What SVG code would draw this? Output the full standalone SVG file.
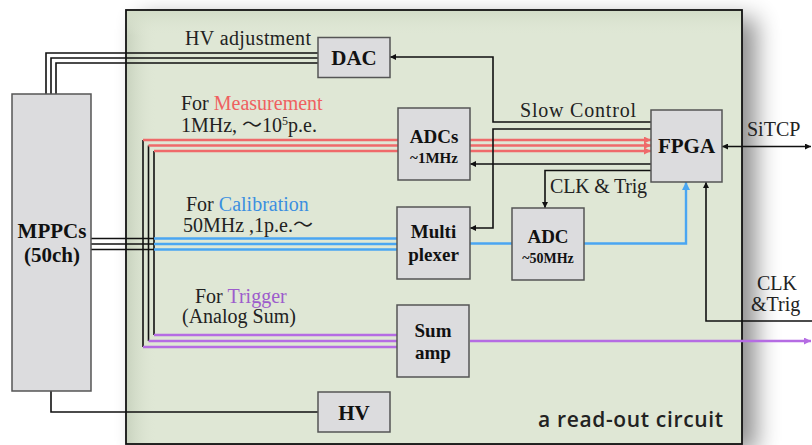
<svg xmlns="http://www.w3.org/2000/svg" width="812" height="445" viewBox="0 0 812 445">
<style>
.box{fill:#dcdcde;stroke:#555;stroke-width:1.5}
.lbl{font-family:"Liberation Serif","Noto Sans CJK JP",serif;font-size:20px;fill:#222}
.bt{font-family:"Liberation Serif",serif;font-weight:bold;fill:#111;text-anchor:middle}
.k{fill:none;stroke:#111;stroke-width:1.6}
.r{fill:none;stroke:#ef6a6a;stroke-width:2.4}
.b{fill:none;stroke:#4aa6f2;stroke-width:2.4}
.p{fill:none;stroke:#b56ce3;stroke-width:2.4}
</style>
<defs>
<marker id="ak" viewBox="0 0 10 10" refX="10" refY="5" markerWidth="6" markerHeight="6" orient="auto-start-reverse" markerUnits="userSpaceOnUse"><path d="M0,0 L10,5 L0,10 z" fill="#111"/></marker>
<marker id="ar" viewBox="0 0 10 10" refX="10" refY="5" markerWidth="8" markerHeight="7" orient="auto" markerUnits="userSpaceOnUse"><path d="M0,0 L10,5 L0,10 z" fill="#ef6a6a"/></marker>
<marker id="ab" viewBox="0 0 10 10" refX="10" refY="5" markerWidth="9" markerHeight="8" orient="auto" markerUnits="userSpaceOnUse"><path d="M0,0 L10,5 L0,10 z" fill="#4aa6f2"/></marker>
<marker id="ap" viewBox="0 0 10 10" refX="10" refY="5" markerWidth="8" markerHeight="7" orient="auto" markerUnits="userSpaceOnUse"><path d="M0,0 L10,5 L0,10 z" fill="#b56ce3"/></marker>
<filter id="sh" x="-10%" y="-10%" width="130%" height="130%"><feGaussianBlur in="SourceAlpha" stdDeviation="12"/><feOffset dx="14" dy="8"/><feComponentTransfer><feFuncA type="linear" slope="0.45"/></feComponentTransfer><feMerge><feMergeNode/><feMergeNode in="SourceGraphic"/></feMerge></filter>
<linearGradient id="ls" x1="0" y1="0" x2="1" y2="0"><stop offset="0" stop-color="#c9d3bf"/><stop offset="1" stop-color="#dfe7d5" stop-opacity="0"/></linearGradient>
<linearGradient id="ts" x1="0" y1="0" x2="0" y2="1"><stop offset="0" stop-color="#d3ddc8"/><stop offset="1" stop-color="#dfe7d5" stop-opacity="0"/></linearGradient>
</defs>
<rect width="812" height="445" fill="#fff"/>
<g id="board">
<rect x="126" y="10" width="616" height="434" fill="#dfe7d5" filter="url(#sh)"/>
<rect x="127" y="11" width="30" height="432" fill="url(#ls)"/>
<rect x="127" y="11" width="614" height="25" fill="url(#ts)"/>
<rect x="126" y="10" width="616" height="434" fill="none" stroke="#111" stroke-width="1.8"/>
<text x="723" y="427" text-anchor="end" font-family="'Open Sans','Noto Sans',sans-serif" font-size="21" font-weight="600" fill="#222" textLength="185">a read-out circuit</text>
</g>
<g id="connectors">
<path class="k" d="M46,94 V53 H318"/>
<path class="k" d="M51,94 V58 H318"/>
<path class="k" d="M56,94 V63 H318"/>
<path class="k" d="M51,391 V412 H318"/>
<path class="k" d="M91,238.5 H154"/>
<path class="k" d="M91,244 H154"/>
<path class="k" d="M91,249.5 H154"/>
<path class="k" d="M143,140 V347"/>
<path class="k" d="M148.5,145.5 V341"/>
<path class="k" d="M154,151 V335"/>
<path class="r" d="M143,140 H398"/>
<path class="r" d="M148.5,145.5 H398"/>
<path class="r" d="M154,151 H398"/>
<path class="r" d="M470,140 H651" marker-end="url(#ar)"/>
<path class="r" d="M470,145.5 H651" marker-end="url(#ar)"/>
<path class="r" d="M470,151 H651" marker-end="url(#ar)"/>
<path class="b" d="M154,238.5 H397"/>
<path class="b" d="M154,244 H397"/>
<path class="b" d="M154,249.5 H397"/>
<path class="b" d="M470,243.5 H512"/>
<path class="b" d="M584,243.5 H686 V182" marker-end="url(#ab)"/>
<path class="p" d="M154,335 H397"/>
<path class="p" d="M148.5,341 H397"/>
<path class="p" d="M143,347 H397"/>
<path class="p" d="M470,341 H811" marker-end="url(#ap)"/>
<path class="k" d="M651,122 H493 V57 H390" marker-end="url(#ak)"/>
<path class="k" d="M651,129 H493 V228 H470" marker-end="url(#ak)"/>
<path class="k" d="M651,164 H470" marker-end="url(#ak)"/>
<path class="k" d="M651,170.5 H545 V208" marker-end="url(#ak)"/>
<path class="k" d="M722,146.5 H811" marker-start="url(#ak)" marker-end="url(#ak)"/>
<path class="k" d="M812,321 H706 V182" marker-end="url(#ak)"/>
</g>
<g id="labels">
<text class="lbl" x="185" y="45" textLength="126">HV adjustment</text>
<text class="lbl" x="181" y="110">For <tspan fill="#ef6060">Measurement</tspan></text>
<text class="lbl" x="181" y="132" font-size="19">1MHz, ～10<tspan font-size="12" dy="-7">5</tspan><tspan dy="7">p.e.</tspan></text>
<text class="lbl" x="520" y="117" textLength="116">Slow Control</text>
<text class="lbl" x="550" y="193" font-size="19" textLength="97">CLK &amp; Trig</text>
<text class="lbl" x="747" y="136">SiTCP</text>
<text class="lbl" x="186" y="211">For <tspan fill="#3b8fe0">Calibration</tspan></text>
<text class="lbl" x="183" y="232" font-size="19">50MHz ,1p.e.～</text>
<text class="lbl" x="195" y="303">For <tspan fill="#9d5ccc">Trigger</tspan></text>
<text class="lbl" x="182" y="323">(Analog Sum)</text>
<text class="lbl" x="757" y="290">CLK</text>
<text class="lbl" x="751" y="311">&amp;Trig</text>
</g>
<g id="mppcs"><rect class="box" x="12" y="94" width="79" height="297"/><text class="bt" x="52" y="238" font-size="21">MPPCs</text><text class="bt" x="52" y="262" font-size="21">(50ch)</text></g>
<g id="dac"><rect class="box" x="318" y="37.5" width="72" height="40"/><text class="bt" x="354" y="65" font-size="21">DAC</text></g>
<g id="adcs"><rect class="box" x="398" y="108" width="72" height="72"/><text class="bt" x="434" y="143" font-size="19">ADCs</text><text class="bt" x="434" y="163" font-size="15">~1MHz</text></g>
<g id="fpga"><rect class="box" x="651" y="110" width="71" height="72"/><text class="bt" x="686.5" y="153" font-size="21">FPGA</text></g>
<g id="mux"><rect class="box" x="397" y="207" width="73" height="72"/><text class="bt" x="433.5" y="238" font-size="19">Multi</text><text class="bt" x="433.5" y="261" font-size="19">plexer</text></g>
<g id="adc"><rect class="box" x="512" y="208" width="72" height="72"/><text class="bt" x="548" y="243" font-size="19">ADC</text><text class="bt" x="548" y="263" font-size="14">~50MHz</text></g>
<g id="sumamp"><rect class="box" x="397" y="305" width="72" height="72"/><text class="bt" x="433" y="337" font-size="19">Sum</text><text class="bt" x="433" y="359" font-size="19">amp</text></g>
<g id="hv"><rect class="box" x="318" y="392" width="72" height="40"/><text class="bt" x="354" y="420" font-size="21">HV</text></g>
</svg>
